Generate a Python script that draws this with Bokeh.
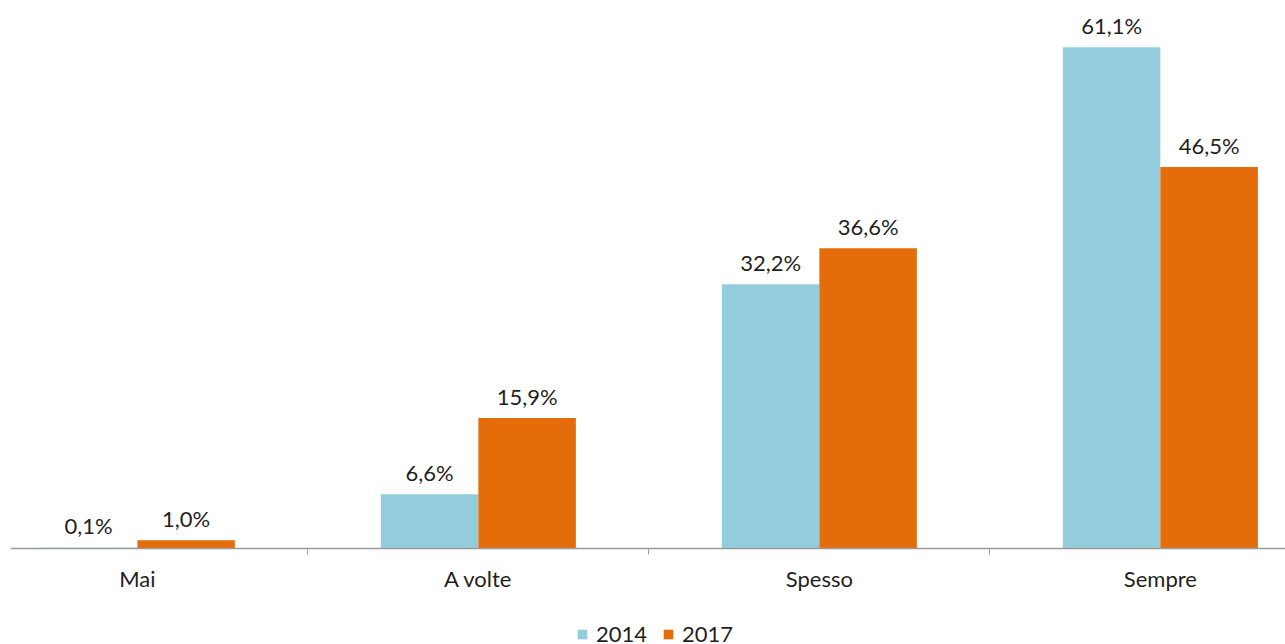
from bokeh.plotting import figure
from bokeh.models import (ColumnDataSource, Range1d, LinearAxis, FixedTicker,
                          Legend, LegendItem)
from bokeh.transform import dodge
from bokeh.core.properties import value
from bokeh.embed import file_html
from bokeh.resources import INLINE

categories = ["Mai", "A volte", "Spesso", "Sempre"]
years = ["2014", "2017"]
v2014 = [0.1, 6.6, 32.2, 61.1]
v2017 = [1.0, 15.9, 36.6, 46.5]
colors = ["#93CDDD", "#E46C0A"]

FONT = "Lato"
FS = "22px"

def fmt(v):
    return f"{v:.1f}".replace(".", ",") + "%"

idx = list(range(len(categories)))
src = ColumnDataSource(dict(
    x=idx,
    v2014=v2014, v2017=v2017,
    l2014=[fmt(v) for v in v2014],
    l2017=[fmt(v) for v in v2017],
))

p = figure(frame_width=1275, frame_height=644, x_range=Range1d(-0.372, 3.367),
           y_range=Range1d(-11.70, 66.8), x_axis_type=None, y_axis_type=None,
           output_backend="svg", toolbar_location=None,
           min_border_left=10, min_border_right=0, min_border_top=0,
           min_border_bottom=0)
p.outline_line_color = None
p.xgrid.visible = False
p.ygrid.visible = False

bw = 0.286
off = bw / 2
r1 = p.vbar(x=dodge("x", -off), top="v2014", width=bw, source=src,
            fill_color=colors[0], line_color=None)
r2 = p.vbar(x=dodge("x", off), top="v2017", width=bw, source=src,
            fill_color=colors[1], line_color=None)

for col, lab, o in (("v2014", "l2014", -off), ("v2017", "l2017", off)):
    p.text(x=dodge("x", o), y=col, text=lab, source=src,
           text_font=value(FONT), text_font_size=FS, text_color="#1f1f1f",
           text_align="center", text_baseline="alphabetic", y_offset=-22)

ax = LinearAxis(ticker=FixedTicker(ticks=idx, minor_ticks=[0.5, 1.5, 2.5]),
                axis_label=None, fixed_location=0)
ax.major_label_overrides = {i: c for i, c in zip(idx, categories)}
ax.major_tick_out = 0
ax.major_tick_in = 0
ax.minor_tick_out = 6
ax.minor_tick_in = 0
ax.minor_tick_line_color = "#9a9a9a"
ax.axis_line_color = "#9a9a9a"
ax.axis_line_width = 1.5
ax.major_label_standoff = 10
ax.major_label_text_font = FONT
ax.major_label_text_font_size = FS
ax.major_label_text_color = "#1f1f1f"
p.add_layout(ax, "below")

legend = Legend(items=[LegendItem(label=years[0], renderers=[r1]),
                       LegendItem(label=years[1], renderers=[r2])],
                orientation="horizontal", location=(566, -3),
                glyph_width=12, glyph_height=12, label_standoff=8, spacing=15,
                label_text_font=FONT, label_text_font_size=FS,
                label_text_color="#1f1f1f", border_line_color=None,
                background_fill_alpha=0, padding=0, margin=0)
p.add_layout(legend, "center")

open("out.html", "w").write(file_html(p, INLINE))
